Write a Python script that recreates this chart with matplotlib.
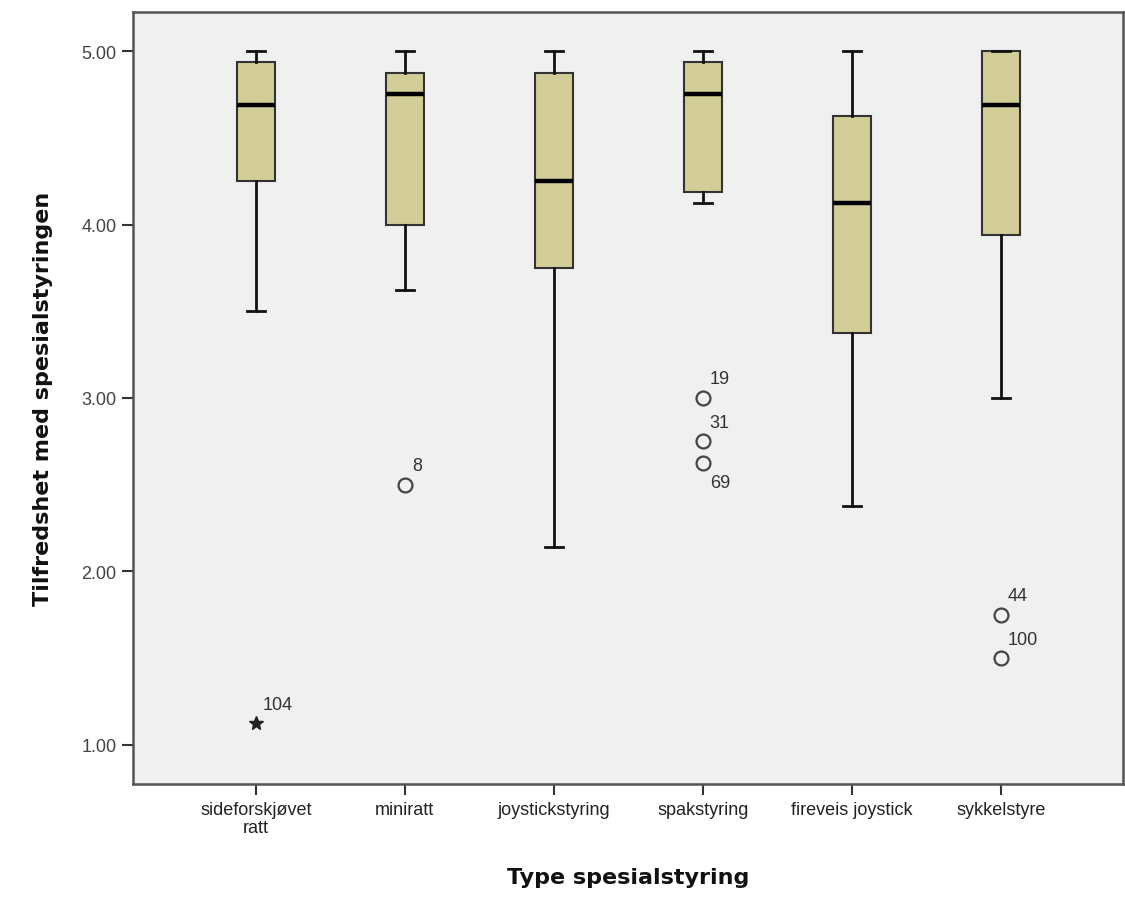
import matplotlib
matplotlib.use("Agg")
import matplotlib.pyplot as plt

# ---- data ----
categories = ["sideforskjøvet\nratt", "miniratt", "joystickstyring",
              "spakstyring", "fireveis joystick", "sykkelstyre"]
whisker_low = [3.5, 3.625, 2.14, 4.125, 2.375, 3.0]
q1 = [4.25, 4.0, 3.75, 4.1875, 3.375, 3.9375]
median = [4.6875, 4.75, 4.25, 4.75, 4.125, 4.6875]
q3 = [4.9375, 4.875, 4.875, 4.9375, 4.625, 5.0]
whisker_high = [5.0, 5.0, 5.0, 5.0, 5.0, 5.0]

outlier_group = [2, 4, 4, 4, 6, 6]
outlier_value = [2.5, 3.0, 2.75, 2.625, 1.75, 1.5]
outlier_id = ["8", "19", "31", "69", "44", "100"]

extreme_group = [1]
extreme_value = [1.125]
extreme_id = ["104"]

yticks = [1.0, 2.0, 3.0, 4.0, 5.0]
ytick_labels = ["1.00", "2.00", "3.00", "4.00", "5.00"]

# ---- style ----
box_fill = "#d3ce97"
bg = "#f0f0f0"
edge = "#333333"

fig = plt.figure(figsize=(11.25, 9.03), dpi=100)
ax = fig.add_axes([0.1182, 0.1307, 0.8800, 0.8549])
ax.set_facecolor(bg)

positions = list(range(1, len(categories) + 1))
stats = []
for i in range(len(categories)):
    stats.append(dict(med=median[i], q1=q1[i], q3=q3[i],
                      whislo=whisker_low[i], whishi=whisker_high[i],
                      fliers=[]))

ax.bxp(stats, positions=positions, widths=0.255, patch_artist=True,
       showfliers=False,
       boxprops=dict(facecolor=box_fill, edgecolor=edge, linewidth=1.5),
       medianprops=dict(color="black", linewidth=3.2, solid_capstyle="butt"),
       whiskerprops=dict(color="#111111", linewidth=2.0),
       capprops=dict(color="#111111", linewidth=2.0),
       capwidths=0.12)

# outliers
ax.plot(outlier_group, outlier_value, linestyle="none", marker="o",
        markersize=10, markerfacecolor="none", markeredgecolor="#444444",
        markeredgewidth=1.6, zorder=5)
ax.plot(extreme_group, extreme_value, linestyle="none", marker="*",
        markersize=10, markerfacecolor="#222222", markeredgecolor="#222222",
        zorder=5)

label_font = dict(family="Liberation Sans", size=13, color="#333333")
below = {"69"}
for g, v, lab in zip(outlier_group + extreme_group,
                     outlier_value + extreme_value,
                     outlier_id + extreme_id):
    if lab in below:
        ax.annotate(lab, (g, v), xytext=(7, -19), textcoords="offset pixels",
                    ha="left", va="center", **label_font)
    else:
        ax.annotate(lab, (g, v), xytext=(7, 19), textcoords="offset pixels",
                    ha="left", va="center", **label_font)

ax.set_xlim(0.175, 6.82)
ax.set_ylim(0.775, 5.225)
ax.set_xticks(positions)
ax.set_xticklabels(categories, fontfamily="Liberation Sans", fontsize=13,
                   color="#222222", linespacing=1.1)
ax.set_yticks(yticks)
ax.set_yticklabels(ytick_labels, fontfamily="Liberation Sans", fontsize=13,
                   color="#444444")
ax.tick_params(axis="both", direction="out", length=8, width=1.5,
               color="#333333", pad=4)

for s in ax.spines.values():
    s.set_color("#555555")
    s.set_linewidth(1.8)

ax.set_xlabel("Type spesialstyring", fontfamily="DejaVu Sans",
              fontweight="bold", fontsize=16, labelpad=22, color="#111111")
ax.set_ylabel("Tilfredshet med spesialstyringen", fontfamily="DejaVu Sans",
              fontweight="bold", fontsize=16, labelpad=20, color="#111111")

fig.savefig("out.png", dpi=100, facecolor="white")
